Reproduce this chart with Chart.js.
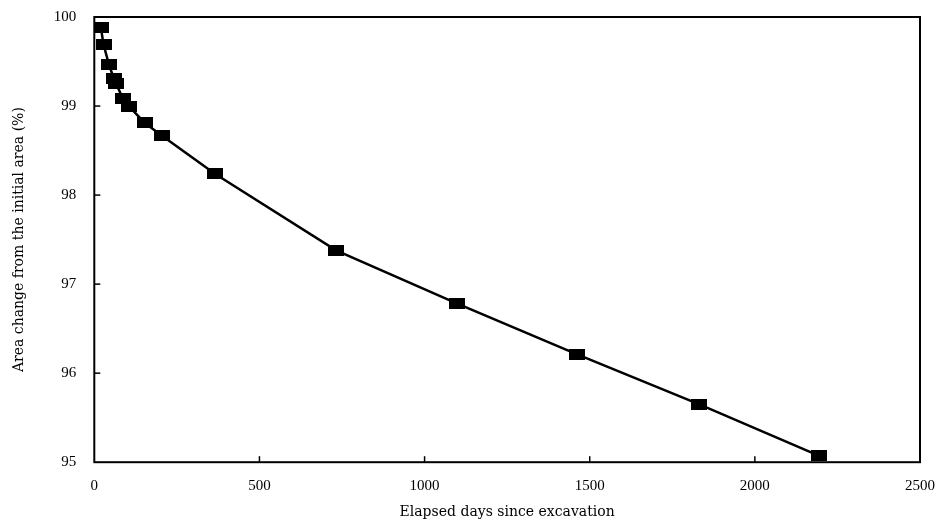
<!DOCTYPE html>
<html>
<head>
<meta charset="utf-8">
<script src="https://cdn.jsdelivr.net/npm/chart.js@4.4.0/dist/chart.umd.min.js"></script>
<style>
  html, body { margin: 0; padding: 0; background: #fff; }
  #wrap { width: 940px; height: 523px; position: relative; }
</style>
</head>
<body>
<div id="wrap"><canvas id="c" width="940" height="523"></canvas></div>
<script>
// Data
const elapsedDays = [20, 28, 44, 59, 66, 86, 104, 153, 204, 365, 732, 1099, 1462, 1832, 2195];
const areaChange  = [99.88, 99.69, 99.47, 99.31, 99.25, 99.09, 99.00, 98.81, 98.67, 98.24, 97.38, 96.78, 96.21, 95.65, 95.07];
const xTicks = [0, 500, 1000, 1500, 2000, 2500];
const yTicks = [95, 96, 97, 98, 99, 100];

const points = elapsedDays.map((d, i) => ({ x: d, y: areaChange[i] }));

// rectangular marker
const marker = document.createElement('canvas');
marker.width = 16; marker.height = 11;
const mctx = marker.getContext('2d');
mctx.fillStyle = '#000';
mctx.fillRect(0, 0, 16, 11);

const TICKFONT = "'Liberation Serif', serif";
const TITLEFONT = "'DejaVu Serif', serif";

const framePlugin = {
  id: 'frame',
  afterDraw(chart) {
    const { ctx, chartArea: a, scales } = chart;
    ctx.save();
    ctx.strokeStyle = '#000';
    ctx.lineWidth = 2;
    ctx.strokeRect(a.left, a.top, a.right - a.left, a.bottom - a.top);
    ctx.lineWidth = 1.5;
    xTicks.forEach(v => {
      if (v === 0 || v === 2500) return;
      const px = scales.x.getPixelForValue(v);
      ctx.beginPath(); ctx.moveTo(px, a.bottom); ctx.lineTo(px, a.bottom - 6); ctx.stroke();
    });
    yTicks.forEach(v => {
      if (v === 95 || v === 100) return;
      const py = scales.y.getPixelForValue(v);
      ctx.beginPath(); ctx.moveTo(a.left, py); ctx.lineTo(a.left + 6, py); ctx.stroke();
    });
    ctx.restore();
  }
};

new Chart(document.getElementById('c'), {
  type: 'scatter',
  data: {
    datasets: [{
      data: points,
      showLine: true,
      borderColor: '#000',
      borderWidth: 2.5,
      pointStyle: marker,
      pointRadius: 8,
      pointBackgroundColor: '#000',
      pointBorderColor: '#000',
      tension: 0
    }]
  },
  options: {
    responsive: false,
    animation: false,
    layout: { padding: { top: 17, right: 0, left: 11, bottom: 0 } },
    plugins: { legend: { display: false }, tooltip: { enabled: false } },
    scales: {
      x: {
        type: 'linear',
        min: 0, max: 2500,
        afterBuildTicks: s => { s.ticks = xTicks.map(v => ({ value: v })); },
        afterFit: s => { s.paddingRight = 20; },
        grid: { display: false },
        border: { display: false },
        ticks: { color: '#000', font: { family: TICKFONT, size: 15 }, padding: 7, maxRotation: 0,
                 callback: v => String(v) },
        title: { display: true, text: 'Elapsed days since excavation', color: '#000',
                 font: { family: TITLEFONT, size: 14 }, padding: { top: 2, bottom: 2 } }
      },
      y: {
        type: 'linear',
        min: 95, max: 100,
        afterBuildTicks: s => { s.ticks = yTicks.map(v => ({ value: v })); },
        afterFit: s => { s.paddingTop = 4; },
        grid: { display: false },
        border: { display: false },
        ticks: { color: '#000', font: { family: TICKFONT, size: 15 }, padding: 10,
                 callback: v => String(v) },
        title: { display: true, text: 'Area change from the initial area (%)', color: '#000',
                 font: { family: TITLEFONT, size: 14 }, padding: { top: 0, bottom: 16 } }
      }
    }
  },
  plugins: [framePlugin]
});
</script>
</body>
</html>
